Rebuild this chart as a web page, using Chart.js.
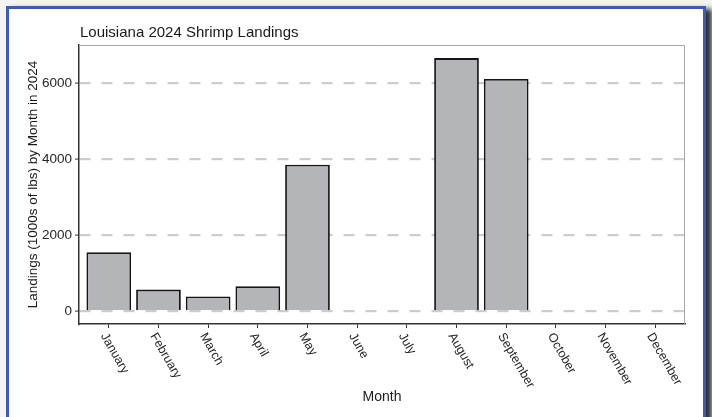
<!DOCTYPE html>
<html>
<head>
<meta charset="utf-8">
<script src="https://cdn.jsdelivr.net/npm/chart.js@4.4.1/dist/chart.umd.min.js"></script>
<style>
  html, body { margin: 0; padding: 0; }
  body { width: 712px; height: 417px; overflow: hidden; background: #f3f3f3; position: relative; }
  #frame {
    position: absolute; left: 6px; top: 6px; width: 694px; height: 440px;
    background: #fff; border: 3px solid #3d5cb6;
    box-shadow: 6px 3px 5px rgba(0, 0, 0, 0.8);
  }
  #chart { position: absolute; left: 0; top: 0; }
</style>
</head>
<body>
<div id="frame"></div>
<canvas id="chart" width="712" height="417"></canvas>
<script>
const TITLE = "Louisiana 2024 Shrimp Landings";
const X_TITLE = "Month";
const Y_TITLE = "Landings (1000s of lbs) by Month in 2024";
const MONTHS = ["January", "February", "March", "April", "May", "June", "July",
  "August", "September", "October", "November", "December"];
// thousands of lbs; null = no bar
const LANDINGS = [1555, 575, 395, 665, 3860, null, null, 6665, 6115, null, null, null];
const Y_TICKS = [0, 2000, 4000, 6000];

const FONT = "'Liberation Sans', Arial, sans-serif";

// ggplot style extras: top/right panel border, title, rotated month labels
const decorations = {
  id: 'decorations',
  beforeDatasetsDraw(chart) {
    const {ctx, chartArea: a} = chart;
    ctx.save();
    ctx.strokeStyle = '#a6a6a6';
    ctx.lineWidth = 1;
    ctx.beginPath();
    ctx.moveTo(a.left, a.top + 0.5);
    ctx.lineTo(a.right - 0.5, a.top + 0.5);
    ctx.lineTo(a.right - 0.5, a.bottom);
    ctx.stroke();
    ctx.restore();
  },
  afterDraw(chart) {
    const {ctx, chartArea: a} = chart;
    const x = chart.scales.x;
    ctx.save();
    ctx.fillStyle = '#1a1a1a';
    ctx.font = `15px ${FONT}`;
    ctx.textAlign = 'left';
    ctx.textBaseline = 'alphabetic';
    ctx.fillText(TITLE, a.left + 1, 37);

    ctx.fillStyle = '#262626';
    ctx.font = `12.5px ${FONT}`;
    ctx.textBaseline = 'top';
    MONTHS.forEach((m, i) => {
      ctx.save();
      ctx.translate(x.getPixelForValue(i), a.bottom + 7);
      ctx.rotate(Math.PI / 3);
      ctx.fillText(m, 0, 0);
      ctx.restore();
    });
    ctx.restore();
  }
};

new Chart(document.getElementById('chart'), {
  type: 'bar',
  data: {
    datasets: [{
      data: MONTHS.map((m, i) => ({x: i, y: LANDINGS[i]})),
      backgroundColor: '#b4b5b8',
      borderColor: '#141414',
      borderWidth: 1.8,
      categoryPercentage: 1,
      barPercentage: 0.9
    }]
  },
  options: {
    responsive: false,
    animation: false,
    layout: {padding: {left: 20, top: 45, right: 27, bottom: 0}},
    plugins: {
      legend: {display: false},
      tooltip: {enabled: false}
    },
    scales: {
      x: {
        type: 'linear',
        offset: false,
        min: -0.6,
        max: 11.6,
        afterBuildTicks: s => { s.ticks = MONTHS.map((m, i) => ({value: i})); },
        afterFit: s => { s.height = 93; },
        ticks: {display: false},
        grid: {
          offset: false, drawOnChartArea: false, drawTicks: true,
          tickLength: 4, tickColor: '#333', tickWidth: 1
        },
        border: {color: '#333', width: 1.5},
        title: {
          display: true, text: X_TITLE, color: '#1a1a1a',
          font: {family: FONT, size: 14}, padding: {top: 0, bottom: 11}
        }
      },
      y: {
        min: -330,
        max: 7010,
        afterBuildTicks: s => { s.ticks = Y_TICKS.map(v => ({value: v})); },
        afterFit: s => { s.width = 59; },
        ticks: {
          color: '#262626', padding: 3,
          font: {family: FONT, size: 13.5},
          callback: v => String(v)
        },
        grid: {
          color: '#cccccc', lineWidth: 2.2,
          drawTicks: true, tickLength: 4, tickColor: '#333', tickWidth: 1
        },
        border: {color: '#333', width: 1.5, dash: [11, 11]},
        title: {
          display: true, text: Y_TITLE, color: '#1a1a1a',
          font: {family: FONT, size: 13.5}, padding: {top: 5, bottom: 0}
        }
      }
    }
  },
  plugins: [decorations]
});
</script>
</body>
</html>
